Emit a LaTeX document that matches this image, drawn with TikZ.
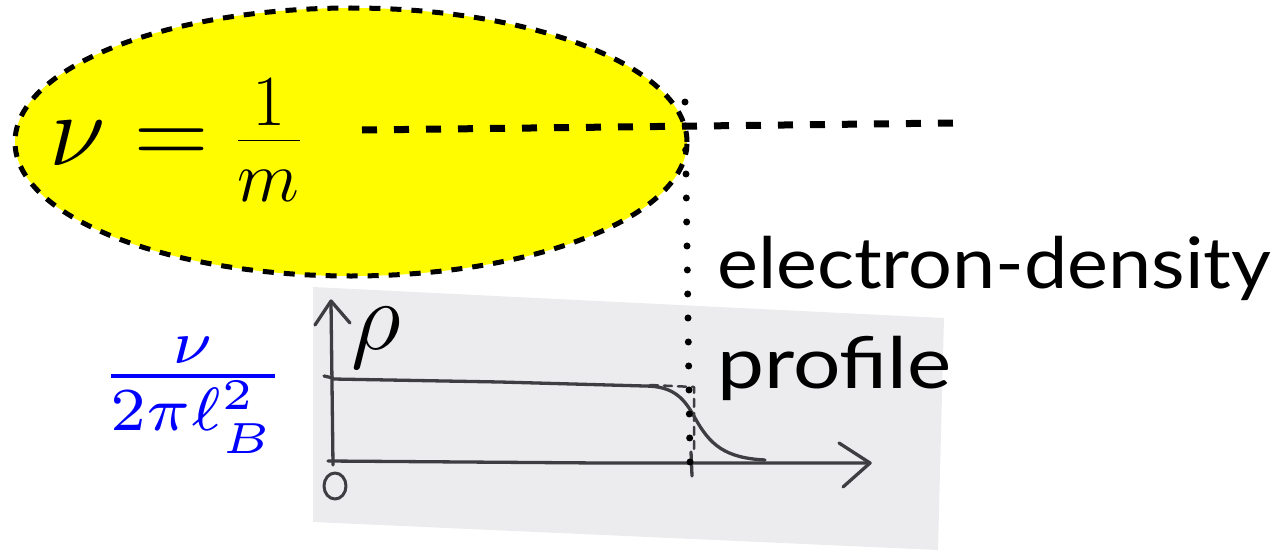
\RequirePackage{fix-cm}
\documentclass[tikz,border=0pt]{standalone}
\usepackage{fontspec}
\usepackage{graphicx}
\usetikzlibrary{shapes.geometric}
\newfontfamily\labelfont{Lato}
\definecolor{bubblefill}{RGB}{255,252,0}
\definecolor{paper}{RGB}{236,236,239}
\definecolor{pencil}{RGB}{62,62,66}
\definecolor{fracblue}{RGB}{0,0,255}
\newcommand{\captext}[2]{\scalebox{#1}[1]{#2}}
\begin{document}
\begin{tikzpicture}[x=1pt,y=-1pt,
  bubble/.style={ellipse, fill=bubblefill, draw=black, line width=5pt,
                 dash pattern=on 11pt off 10pt, inner sep=0pt},
  levelline/.style={line width=7pt, dash pattern=on 15pt off 17pt},
  edgemarker/.style={line width=7pt, line cap=round, dash pattern=on 0pt off 24pt},
  sketch/.style={draw=pencil, line width=3.3pt, line cap=round, line join=round},
  caption/.style={font=\labelfont\fontsize{71}{84}\selectfont, anchor=base west, inner sep=0pt},
  plain/.style={inner sep=0pt, outer sep=0pt}]
\useasboundingbox (0,0) rectangle (1284,551);

% filling-fraction bubble
\node[bubble, minimum width=672pt, minimum height=268pt] (bubble) at (351,142) {};
\node[plain] (eq) at (175,140) {\fontsize{103}{103}\selectfont$\nu=\frac{1}{m}$};

% photographed sketch of the density profile
\fill[paper] (313,287) -- (944,318) -- (938,550) -- (313,522) -- cycle;
% axes
\draw[sketch] (333,465) -- (331,302);
\draw[sketch] (315,325) -- (331,301) -- (350,323);
\draw[sketch] (328,461) -- (600,463) -- (870,463);
\draw[sketch] (839,443) -- (870,463) -- (843,487);
\draw[sketch] (324,376) -- (333,378);
% density curve
\draw[sketch] (333,379) -- (500,382) -- (645,386)
  .. controls (675,386) and (685,400) .. (695,418)
  .. controls (710,445) and (725,458) .. (765,460);
\draw[sketch, line width=2.5pt, dash pattern=on 8pt off 6pt] (650,385) -- (694,387) -- (694,452);
\draw[sketch] (691,452) -- (692,476);
\draw[sketch, line width=3pt] (335,486) ellipse [x radius=11, y radius=13];
\node[plain] (rho) at (376,338) {\fontsize{98}{98}\selectfont$\rho$};

% plateau value
\node[plain, text=fracblue] (plateau) at (193,395)
  {\resizebox*{186pt}{116pt}{$\textstyle\frac{\nu}{2\pi\ell_B^2}$}};

% guide lines
\coordinate (lvlA) at (362,130);
\coordinate (lvlB) at (953,123);
\draw[levelline] (lvlA) -- (lvlB);
\coordinate (edgeA) at (685,102);
\coordinate (edgeB) at (690,462);
\draw[edgemarker] (edgeA) -- (edgeB);

% caption
\node[caption] (cap1) at (717,288) {\captext{1.09}{electron-density}};
\node[caption] (cap2) at (717,388) {\captext{1.18}{profile}};
\end{tikzpicture}
\end{document}
